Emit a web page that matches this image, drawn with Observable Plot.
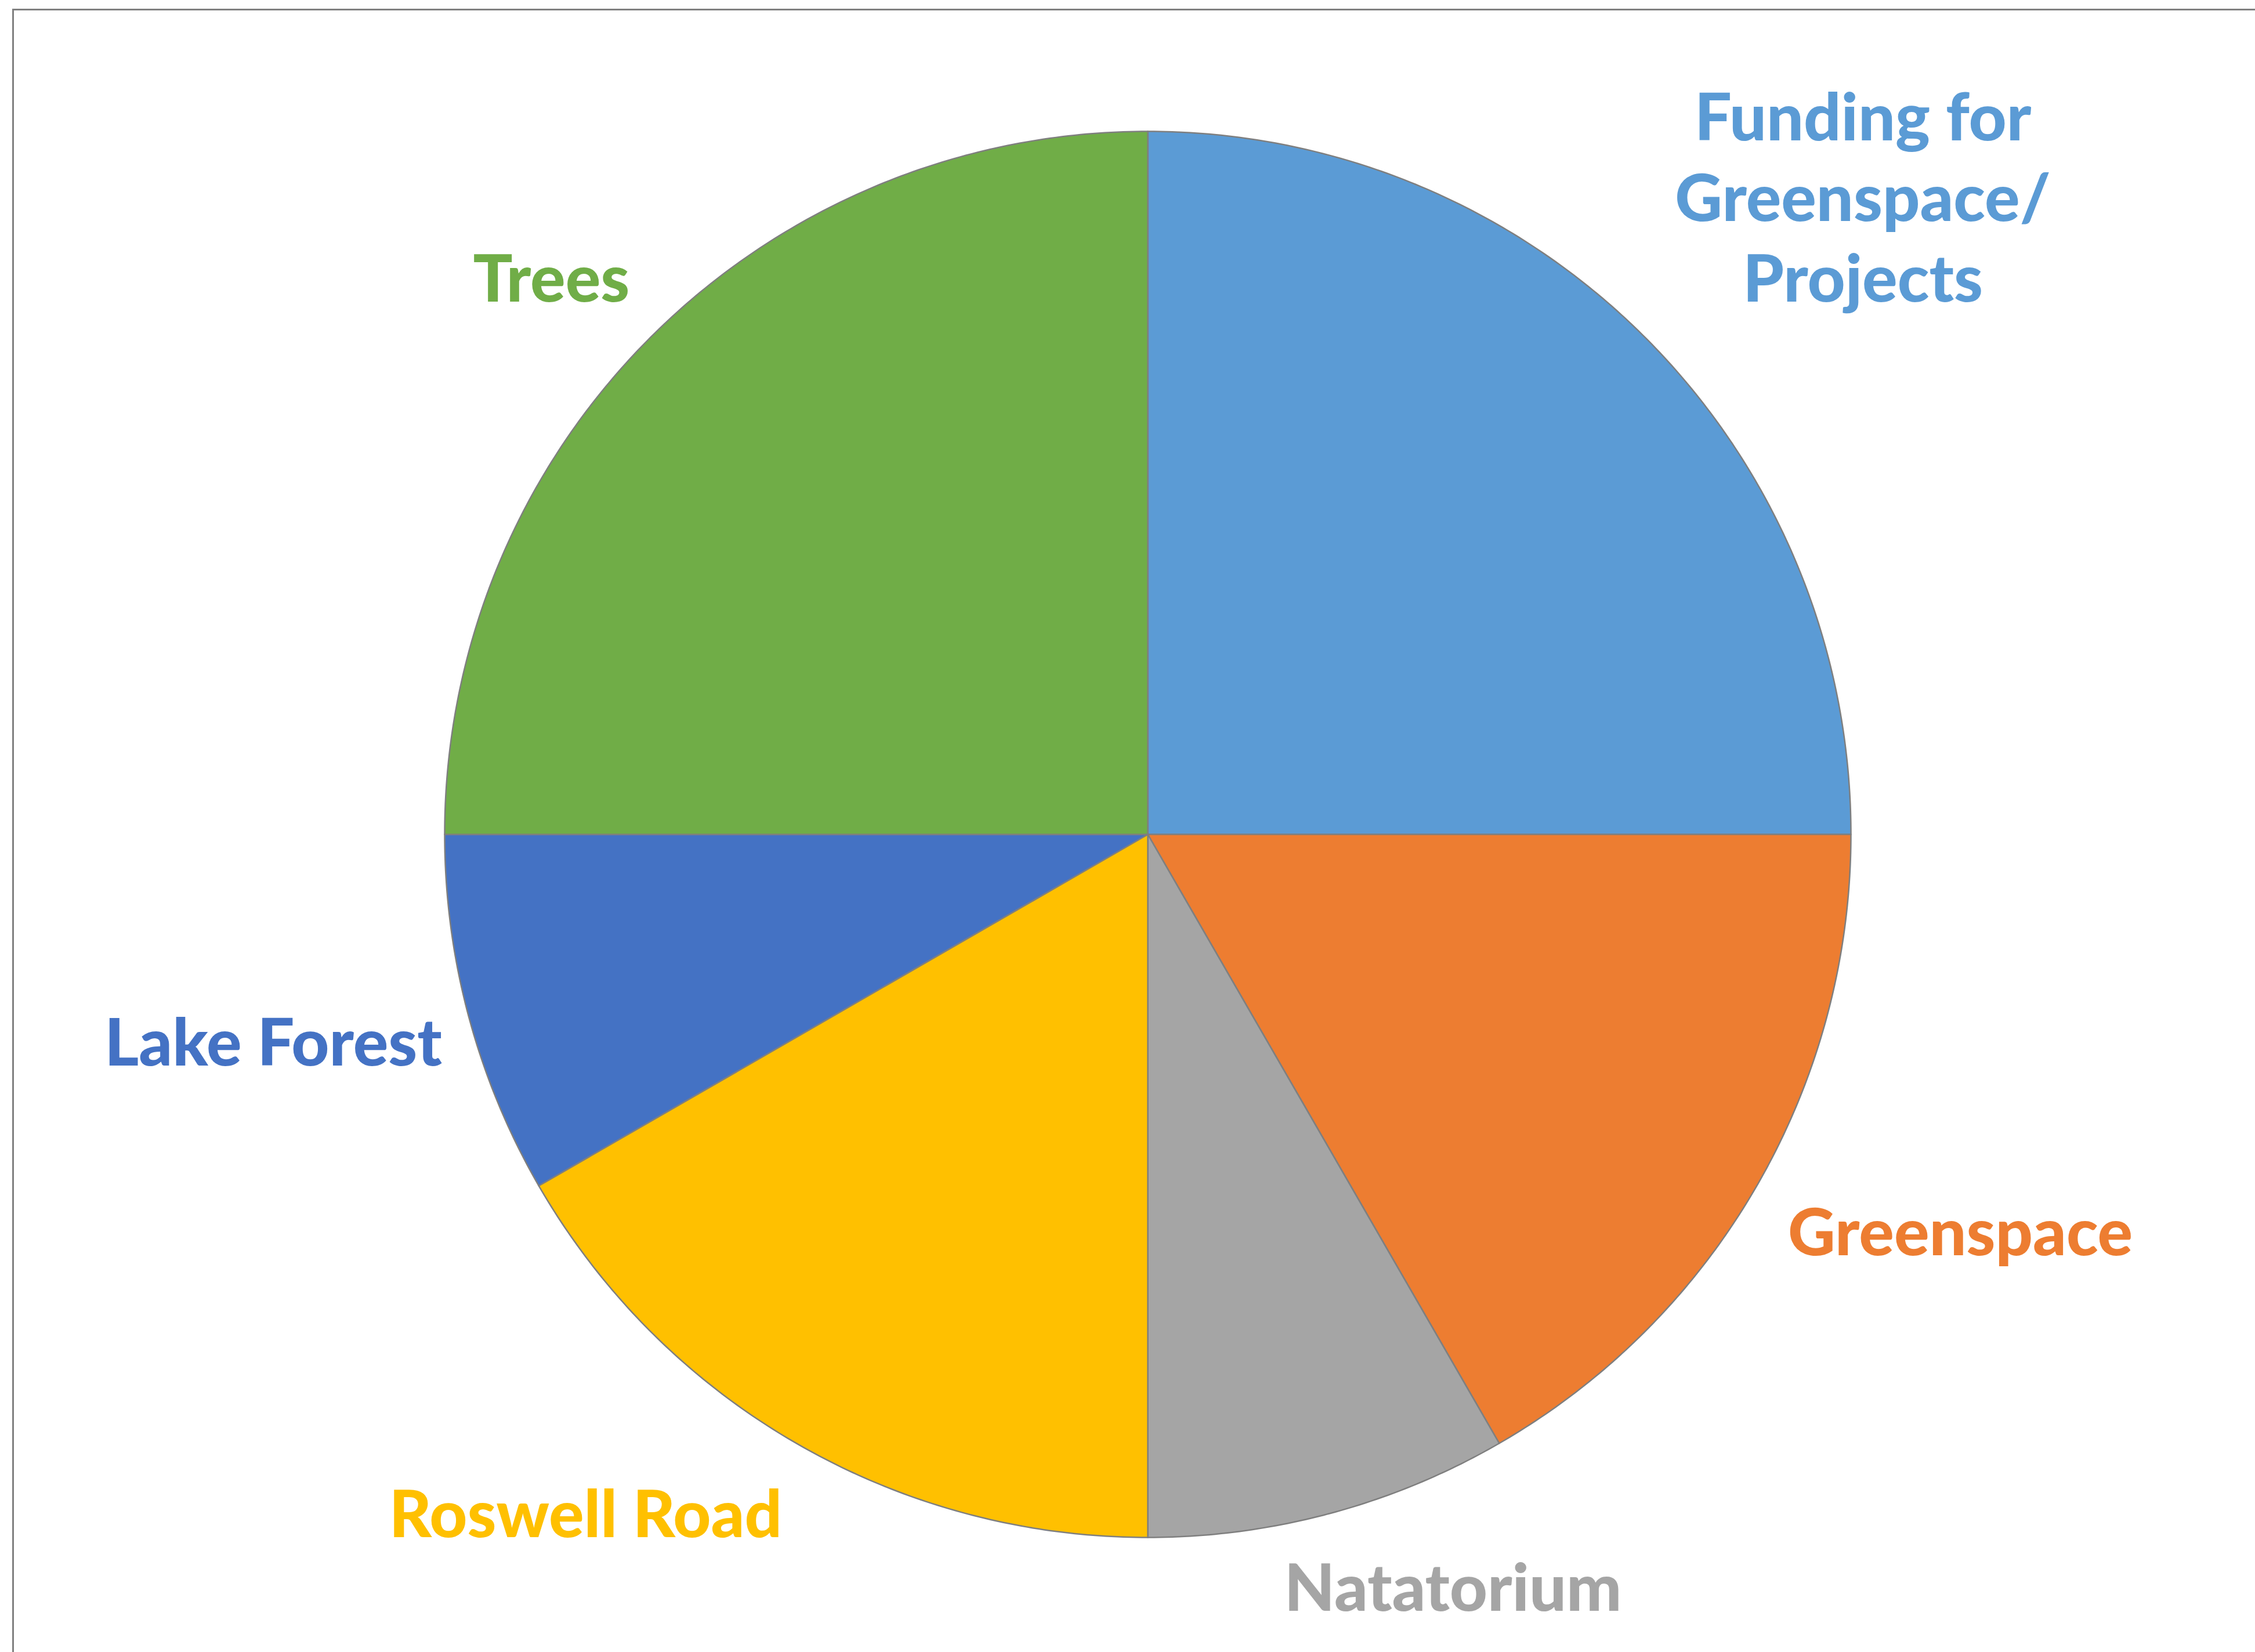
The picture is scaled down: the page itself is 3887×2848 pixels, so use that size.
<!DOCTYPE html>
<html>
<head>
<meta charset="utf-8">
<script src="https://cdn.jsdelivr.net/npm/d3@7"></script>
<script src="https://cdn.jsdelivr.net/npm/@observablehq/plot@0.6"></script>
<style>
  html, body { margin: 0; padding: 0; background: #ffffff; }
  #wrap { position: relative; width: 3887px; height: 2848px; overflow: hidden; }
  #frame { position: absolute; left: 21px; top: 15px; right: -10px; bottom: -10px;
           border-top: 3px solid #808080; border-left: 3px solid #808080; pointer-events: none; }
  #chart { position: absolute; left: 0; top: 0; }
</style>
</head>
<body>
<div id="wrap"><div id="chart"></div><div id="frame"></div></div>
<script>
// ---- data ----
const categories = ["Funding for Greenspace/ Projects", "Greenspace", "Natatorium", "Roswell Road", "Lake Forest", "Trees"];
const labels = ["Funding for\nGreenspace/\nProjects", "Greenspace", "Natatorium", "Roswell Road", "Lake Forest", "Trees"];
const shares = [25, 16.67, 8.33, 16.67, 8.33, 25];
const colors = ["#5B9BD5", "#ED7D31", "#A5A5A5", "#FFC000", "#4472C4", "#70AD47"];

// ---- layout (label placement relative to slice mid-angle) ----
const labelRadius = [1.36, 1.288, 1.159, 1.257, 1.279, 1.158];
const labelAngleShift = [3.4, -3.8, -7, 9.5, 1.5, -2.1]; // degrees

const W = 3887, H = 2848;
const cx = 1978, cy = 1438, R = 1212;

const pie = d3.pie().sort(null).value(d => d.value);
const arcs = pie(categories.map((name, i) => ({name, value: shares[i]})));

// polygon outline of each slice in unit-circle coordinates (y up)
const slicePts = [];
arcs.forEach(a => {
  const name = a.data.name;
  slicePts.push({name, x: 0, y: 0});
  const n = Math.max(8, Math.ceil((a.endAngle - a.startAngle) / (Math.PI / 360)));
  for (let k = 0; k <= n; k++) {
    const t = a.startAngle + (a.endAngle - a.startAngle) * k / n;
    slicePts.push({name, x: Math.sin(t), y: Math.cos(t)});
  }
  slicePts.push({name, x: 0, y: 0});
});

const labelPts = arcs.map((a, i) => {
  const mid = (a.startAngle + a.endAngle) / 2 + labelAngleShift[i] * Math.PI / 180;
  return {name: a.data.name, text: labels[i], x: labelRadius[i] * Math.sin(mid), y: labelRadius[i] * Math.cos(mid)};
});

const chart = Plot.plot({
  width: W,
  height: H,
  margin: 0,
  x: {domain: [-1, 1], range: [cx - R, cx + R], axis: null},
  y: {domain: [-1, 1], range: [cy + R, cy - R], axis: null},
  color: {domain: categories, range: colors, legend: false},
  style: {background: "transparent"},
  marks: [
    Plot.line(slicePts, {x: "x", y: "y", z: "name", fill: "name", stroke: "#7f7f7f", strokeWidth: 2.5, strokeLinejoin: "round"}),
    Plot.text(labelPts, {
      x: "x", y: "y", text: "text", fill: "name", dy: -8,
      fontSize: 113, fontWeight: 900, fontFamily: "Lato, 'Open Sans', sans-serif",
      lineHeight: 1.23, textAnchor: "middle", lineAnchor: "middle"
    })
  ]
});
document.getElementById("chart").appendChild(chart);
</script>
</body>
</html>
